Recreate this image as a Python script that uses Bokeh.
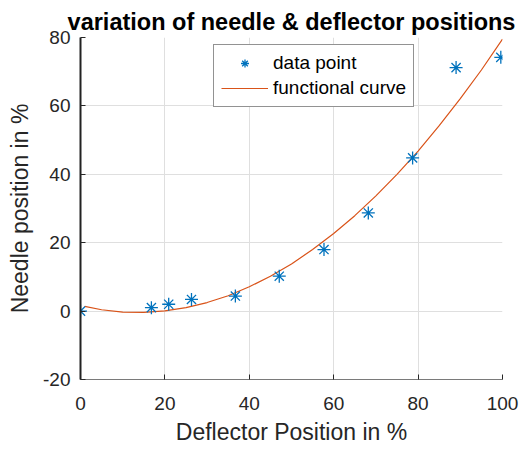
from bokeh.plotting import figure
from bokeh.models import Range1d, FixedTicker, Legend, LegendItem
from bokeh.embed import file_html
from bokeh.resources import INLINE

# data points
deflector = [0, 16.8, 20.9, 26.3, 36.7, 47.1, 57.7, 68.2, 78.7, 89.0, 99.6]
needle = [0, 1.0, 2.0, 3.4, 4.4, 10.2, 18.0, 28.7, 44.8, 71.2, 74.2]

# functional curve
curve_x = [1, 5, 10, 15, 20, 25, 30, 35, 40, 45, 50, 55, 60, 65, 70, 75, 80, 85, 90, 95, 100]
curve_y = [1.4, 0.4, -0.3, -0.4, 0.05, 1.0, 2.5, 4.5, 7.1, 10.2, 13.8, 18.0, 22.7,
           27.9, 33.7, 40.0, 46.8, 54.2, 62.1, 70.5, 79.5]

x_ticks = [0, 20, 40, 60, 80, 100]
y_ticks = [-20, 0, 20, 40, 60, 80]

FONT = "Liberation Sans"
TXT = "#262626"

p = figure(width=524, height=449, output_backend="svg", toolbar_location=None,
           x_range=Range1d(0, 100), y_range=Range1d(-20, 80),
           min_border_left=80, min_border_right=22, min_border_top=37, min_border_bottom=70,
           outline_line_color=None, background_fill_color="white")

p.title.text = "variation of needle & deflector positions"
p.title.text_font = FONT
p.title.text_font_style = "bold"
p.title.text_font_size = "23.5px"
p.title.text_color = "black"
p.title.align = "center"
p.title.standoff = 6

p.xaxis.ticker = FixedTicker(ticks=x_ticks)
p.yaxis.ticker = FixedTicker(ticks=y_ticks)
for ax in (p.xaxis[0], p.yaxis[0]):
    ax.major_tick_in = 5
    ax.major_tick_out = 0
    ax.minor_tick_line_color = None
    ax.major_tick_line_color = TXT
    ax.major_label_text_font = FONT
    ax.major_label_text_font_size = "19px"
    ax.major_label_text_color = TXT
    ax.axis_label_text_font = FONT
    ax.axis_label_text_font_size = "23px"
    ax.axis_label_text_font_style = "normal"
    ax.axis_label_text_color = TXT

p.yaxis.major_label_overrides = {-20: "-20"}
p.xaxis.axis_label = "Deflector Position in %"
p.yaxis.axis_label = "Needle position in %"
p.xaxis.axis_line_color = "#7a7a7a"
p.xaxis.axis_line_width = 1.2
p.yaxis.axis_line_color = "#222222"
p.yaxis.axis_line_width = 2
p.xaxis.major_label_standoff = 17
p.yaxis.major_label_standoff = 10
p.xaxis.axis_label_standoff = 6
p.yaxis.axis_label_standoff = 7

p.xgrid.ticker = FixedTicker(ticks=x_ticks)
p.ygrid.ticker = FixedTicker(ticks=y_ticks)
p.grid.grid_line_color = "#dfdfdf"
p.grid.grid_line_width = 1

curve = p.line(curve_x, curve_y, line_color="#D95319", line_width=1.2)
pts = p.scatter(deflector, needle, marker="asterisk", size=13,
                line_color="#0072BD", line_width=1.3)

legend = Legend(items=[LegendItem(label="data point", renderers=[pts]),
                       LegendItem(label="functional curve", renderers=[curve])],
                location=(133, 272), orientation="vertical",
                label_text_font=FONT, label_text_font_size="19px", label_text_color="black",
                border_line_color="#262626", border_line_width=1,
                background_fill_color="white", background_fill_alpha=1,
                padding=7, spacing=3, margin=0,
                glyph_width=47, glyph_height=20, label_height=20, label_standoff=5)
p.add_layout(legend)

open("out.html", "w").write(file_html(p, INLINE))
